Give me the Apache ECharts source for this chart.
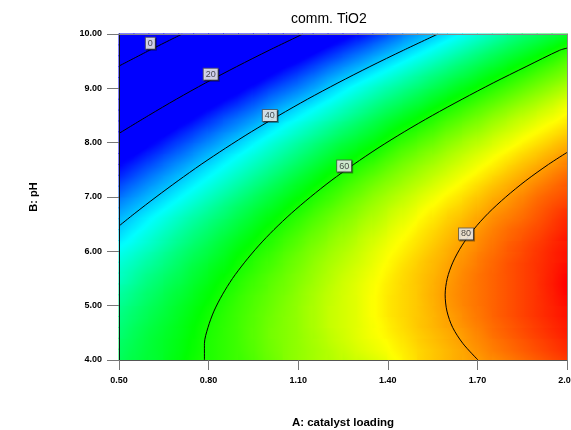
<!DOCTYPE html>
<html><head><meta charset="utf-8">
<script src="https://cdn.jsdelivr.net/npm/echarts@6/dist/echarts.min.js"></script>
<style>html,body{margin:0;padding:0;background:#fff}#c{width:571px;height:430px}</style>
</head><body><div id="c"></div>
<script>
// Cell centres of the response grid (A: catalyst loading, B: pH)
const catalystCenters = [0.525,0.575,0.625,0.675,0.725,0.775,0.825,0.875,0.925,0.975,1.025,1.075,1.125,1.175,1.225,1.275,1.325,1.375,1.425,1.475,1.525,1.575,1.625,1.675,1.725,1.775,1.825,1.875,1.925,1.975];
const phCenters = [4.1,4.3,4.5,4.7,4.9,5.1,5.3,5.5,5.7,5.9,6.1,6.3,6.5,6.7,6.9,7.1,7.3,7.5,7.7,7.9,8.1,8.3,8.5,8.7,8.9,9.1,9.3,9.5,9.7,9.9];
// Response values, one row per pH centre (bottom to top)
const responseRows = [
[54,55,56,57,59,60,61,62,63,64,66,67,68,69,70,71,72,73,74,76,77,78,79,80,81,82,83,84,85,86],
[53,55,56,57,58,60,61,62,63,65,66,67,68,69,70,72,73,74,75,76,77,78,79,80,82,83,84,85,86,87],
[53,54,56,57,58,60,61,62,63,65,66,67,68,70,71,72,73,74,75,77,78,79,80,81,82,83,84,85,86,87],
[52,54,55,56,58,59,61,62,63,65,66,67,68,70,71,72,73,75,76,77,78,79,80,81,83,84,85,86,87,88],
[51,53,54,56,57,59,60,62,63,64,66,67,68,70,71,72,73,75,76,77,78,79,81,82,83,84,85,86,87,88],
[51,52,54,55,57,58,60,61,63,64,65,67,68,70,71,72,73,75,76,77,78,80,81,82,83,84,85,86,87,88],
[49,51,53,54,56,57,59,61,62,64,65,66,68,69,71,72,73,75,76,77,78,80,81,82,83,84,85,86,87,89],
[48,50,52,53,55,57,58,60,61,63,64,66,67,69,70,72,73,74,76,77,78,79,81,82,83,84,85,86,87,89],
[47,49,51,52,54,56,57,59,61,62,64,65,67,68,70,71,72,74,75,77,78,79,80,82,83,84,85,86,87,88],
[46,47,49,51,53,55,56,58,60,61,63,64,66,68,69,70,72,73,75,76,77,79,80,81,82,84,85,86,87,88],
[44,46,48,50,52,53,55,57,59,60,62,64,65,67,68,70,71,73,74,75,77,78,79,81,82,83,84,85,87,88],
[42,44,46,48,50,52,54,56,57,59,61,62,64,66,67,69,70,72,73,75,76,77,79,80,81,83,84,85,86,87],
[41,43,45,47,49,51,52,54,56,58,60,61,63,65,66,68,69,71,72,74,75,77,78,79,81,82,83,84,85,87],
[39,41,43,45,47,49,51,53,55,56,58,60,62,63,65,67,68,70,71,73,74,76,77,78,80,81,82,83,85,86],
[37,39,41,43,45,47,49,51,53,55,57,58,60,62,64,65,67,69,70,72,73,75,76,77,79,80,81,83,84,85],
[35,37,39,41,43,45,47,49,51,53,55,57,59,60,62,64,66,67,69,70,72,73,75,76,78,79,80,82,83,84],
[32,35,37,39,41,43,45,47,49,51,53,55,57,59,61,62,64,66,67,69,70,72,73,75,76,78,79,80,82,83],
[30,32,35,37,39,41,43,45,47,49,51,53,55,57,59,61,62,64,66,67,69,70,72,73,75,76,78,79,80,82],
[28,30,32,34,37,39,41,43,45,47,49,51,53,55,57,59,60,62,64,66,67,69,70,72,73,75,76,78,79,80],
[25,27,30,32,34,36,39,41,43,45,47,49,51,53,55,57,58,60,62,64,65,67,69,70,72,73,75,76,77,79],
[22,25,27,29,32,34,36,38,40,43,45,47,49,51,53,55,56,58,60,62,63,65,67,68,70,71,73,74,76,77],
[19,22,24,27,29,31,34,36,38,40,42,44,46,48,50,52,54,56,58,60,61,63,65,66,68,70,71,73,74,75],
[16,19,21,24,26,28,31,33,35,37,40,42,44,46,48,50,52,54,56,57,59,61,63,64,66,68,69,71,72,74],
[13,16,18,21,23,26,28,30,32,35,37,39,41,43,45,47,49,51,53,55,57,59,60,62,64,65,67,69,70,72],
[10,13,15,18,20,22,25,27,29,32,34,36,38,40,43,45,47,49,51,52,54,56,58,60,61,63,65,66,68,70],
[7,9,12,14,17,19,22,24,26,29,31,33,35,38,40,42,44,46,48,50,52,54,55,57,59,61,62,64,66,67],
[3,6,8,11,13,16,18,21,23,25,28,30,32,35,37,39,41,43,45,47,49,51,53,55,56,58,60,62,63,65],
[0,2,5,7,10,12,15,17,20,22,25,27,29,31,34,36,38,40,42,44,46,48,50,52,54,56,57,59,61,63],
[-4,-1,1,4,6,9,11,14,16,19,21,23,26,28,30,32,35,37,39,41,43,45,47,49,51,53,55,56,58,60],
[-8,-5,-3,0,3,5,8,10,13,15,18,20,22,25,27,29,31,33,36,38,40,42,44,46,48,50,52,54,55,57]
];
// Tick labels
const xTickLabels = ['0.50','0.80','1.10','1.40','1.70','2.00'];
const yTickLabels = ['4.00','5.00','6.00','7.00','8.00','9.00','10.00'];
// Contour lines [catalyst loading, pH]
const contour0 = [[0.5,9.41],[0.602,9.70],[0.7115,10.0]];
const contour20 = [[0.5,8.17],[0.599,8.5],[0.692,8.8],[0.790,9.1],[0.894,9.4],[1.0025,9.7],[1.116,10.0]];
const contour40 = [[0.5,6.466],[0.553,6.7],[0.624,7.0],[0.698,7.3],[0.775,7.6],[0.857,7.9],[0.943,8.2],[1.035,8.5],[1.131,8.8],[1.233,9.1],[1.34,9.4],[1.452,9.7],[1.568,10.0]];
const contour60 = [[0.786,4.0],[0.786,4.3],[0.798,4.6],[0.818,4.9],[0.846,5.2],[0.880,5.5],[0.921,5.8],[0.967,6.1],[1.019,6.4],[1.077,6.7],[1.141,7.0],[1.210,7.3],[1.286,7.6],[1.367,7.9],[1.455,8.2],[1.549,8.5],[1.649,8.8],[1.753,9.1],[1.863,9.4],[1.975,9.7],[2.0,9.74]];
const contour80 = [[1.702,4.0],[1.652,4.3],[1.617,4.6],[1.598,4.9],[1.592,5.2],[1.599,5.5],[1.618,5.8],[1.6475,6.1],[1.687,6.4],[1.736,6.7],[1.795,7.0],[1.862,7.3],[1.938,7.6],[2.0,7.82]];
// Contour label positions and texts
const contourLabelA = [0.605, 0.807, 1.005, 1.254, 1.662];
const contourLabelB = [9.83, 9.26, 8.50, 7.57, 6.32];
const contourLabelText = ['0','20','40','60','80'];

const cellData = [];
responseRows.forEach((row, j) => row.forEach((z, k) => cellData.push([k, j, z])));
const labelData = contourLabelA.map((a, i) => [a, contourLabelB[i], contourLabelText[i]]);

// colour scale (blue - cyan - green - yellow - red)
const SCALE_V = [28, 43.375, 58.75, 74.125, 89.5];
const SCALE_C = [[0,0,255],[0,255,255],[0,255,0],[255,255,0],[255,0,0]];
function colorOf(v) {
  let c;
  if (v <= SCALE_V[0]) c = SCALE_C[0];
  else if (v >= SCALE_V[4]) c = SCALE_C[4];
  else {
    let i = 0;
    while (v > SCALE_V[i + 1]) i++;
    const t = (v - SCALE_V[i]) / (SCALE_V[i + 1] - SCALE_V[i]);
    c = SCALE_C[i].map((x, n) => x + (SCALE_C[i + 1][n] - x) * t);
  }
  return 'rgb(' + c.map(x => Math.round(x)).join(',') + ')';
}

// local plane (level + slope) of a cell from its 3x3 neighbourhood, used for shading inside the cell
function localPlane(k, j) {
  const ny = responseRows.length, nx = responseRows[0].length;
  let n = 0, sx = 0, sy = 0, sz = 0, sxx = 0, syy = 0, sxy = 0, sxz = 0, syz = 0;
  for (let dj = -1; dj <= 1; dj++) {
    for (let dk = -1; dk <= 1; dk++) {
      const kk = k + dk, jj = j + dj;
      if (kk < 0 || kk >= nx || jj < 0 || jj >= ny) continue;
      const z = responseRows[jj][kk];
      n++; sx += dk; sy += dj; sz += z; sxx += dk * dk; syy += dj * dj; sxy += dk * dj; sxz += dk * z; syz += dj * z;
    }
  }
  const M = [[n, sx, sy], [sx, sxx, sxy], [sy, sxy, syy]];
  const r = [sz, sxz, syz];
  const det = m => m[0][0] * (m[1][1] * m[2][2] - m[1][2] * m[2][1]) - m[0][1] * (m[1][0] * m[2][2] - m[1][2] * m[2][0]) + m[0][2] * (m[1][0] * m[2][1] - m[1][1] * m[2][0]);
  const D = det(M);
  return [0, 1, 2].map(col => det(M.map((row, i) => row.map((x, c) => (c === col ? r[i] : x)))) / D);
}

function renderCell(params, api) {
  const k = api.value(0), j = api.value(1);
  const c = api.coord([k, j]);
  const s = api.size([1, 1]);
  const w = s[0], h = s[1];
  const p = localPlane(k, j);
  const z = p[0];
  const ax = p[1] / w, ay = -p[2] / h;
  const mag = Math.hypot(ax, ay);
  const W = w + 1, H = h + 1;
  let fill;
  if (mag < 1e-6) {
    fill = colorOf(z);
  } else {
    const ux = ax / mag, uy = ay / mag;
    const L = (Math.abs(ux) * W + Math.abs(uy) * H) / 2;
    const v0 = z - mag * L, v1 = z + mag * L;
    const stops = [];
    for (let i = 0; i <= 8; i++) {
      const t = i / 8;
      stops.push({offset: t, color: colorOf(v0 + (v1 - v0) * t)});
    }
    fill = new echarts.graphic.LinearGradient(c[0] - ux * L, c[1] - uy * L, c[0] + ux * L, c[1] + uy * L, stops, true);
  }
  return {type: 'rect', shape: {x: c[0] - W / 2, y: c[1] - H / 2, width: W, height: H}, style: {fill: fill, stroke: null}};
}

const FONT = '"Liberation Sans", Arial, sans-serif';
const chart = echarts.init(document.getElementById('c'), null, {renderer: 'canvas'});

function contourSeries(data) {
  return {type: 'line', xAxisIndex: 1, yAxisIndex: 1, data: data, smooth: 0.3, symbol: 'none',
    lineStyle: {color: '#000', width: 1}, z: 3, silent: true};
}

chart.setOption({
  animation: false,
  title: {
    text: 'comm. TiO2', left: 286, top: 7,
    textStyle: {fontFamily: FONT, fontSize: 14, fontWeight: 'normal', color: '#000'}
  },
  grid: {left: 119, right: 4, top: 34, bottom: 70, show: false, outerBoundsMode: 'none', containLabel: false},
  xAxis: [
    {type: 'category', data: catalystCenters, position: 'top', z: 10,
      axisLine: {show: true, lineStyle: {color: '#888', width: 1}}, axisTick: {show: false}, axisLabel: {show: false}, splitLine: {show: false}},
    {type: 'value', min: 0.5, max: 2.0, interval: 0.3, position: 'bottom', z: 10,
      name: 'A: catalyst loading', nameLocation: 'middle', nameGap: 57,
      nameTextStyle: {fontFamily: FONT, fontSize: 11.5, fontWeight: 'bold', color: '#000'},
      axisLine: {show: true, lineStyle: {color: '#555', width: 1}},
      axisTick: {show: true, length: 10, lineStyle: {color: '#777'}},
      axisLabel: {margin: 16, fontFamily: FONT, fontSize: 9, fontWeight: 'bold', color: '#000',
        formatter: v => xTickLabels[Math.round((v - 0.5) / 0.3)]},
      splitLine: {show: false}}
  ],
  yAxis: [
    {type: 'category', data: phCenters, position: 'right', z: 10,
      axisLine: {show: true, lineStyle: {color: '#888', width: 1}}, axisTick: {show: false}, axisLabel: {show: false}, splitLine: {show: false}},
    {type: 'value', min: 4, max: 10, interval: 1, position: 'left', z: 10,
      name: 'B: pH', nameLocation: 'middle', nameGap: 80,
      nameTextStyle: {fontFamily: FONT, fontSize: 11, fontWeight: 'bold', color: '#000'},
      axisLine: {show: true, lineStyle: {color: '#111', width: 1}},
      axisTick: {show: true, length: 12, lineStyle: {color: '#777'}},
      axisLabel: {margin: 17, fontFamily: FONT, fontSize: 9, fontWeight: 'bold', color: '#000',
        formatter: v => yTickLabels[Math.round(v - 4)]},
      splitLine: {show: false}}
  ],
  series: [
    {type: 'custom', xAxisIndex: 0, yAxisIndex: 0, data: cellData, renderItem: renderCell,
      silent: true, z: 1, progressive: 0},
    contourSeries(contour0),
    contourSeries(contour20),
    contourSeries(contour40),
    contourSeries(contour60),
    contourSeries(contour80),
    {type: 'scatter', xAxisIndex: 1, yAxisIndex: 1, data: labelData, symbol: 'rect', symbolSize: 1, z: 6, silent: true,
      itemStyle: {color: 'rgba(0,0,0,0)'},
      label: {show: true, position: 'inside', formatter: p => p.value[2],
        fontFamily: FONT, fontSize: 9, color: '#222', backgroundColor: '#fff',
        borderColor: '#555', borderWidth: 1, padding: [1, 2, 0, 2], lineHeight: 10,
        shadowColor: 'rgba(0,0,0,0.45)', shadowOffsetX: 1, shadowOffsetY: 1, shadowBlur: 0}}
  ]
});
</script>
</body></html>
